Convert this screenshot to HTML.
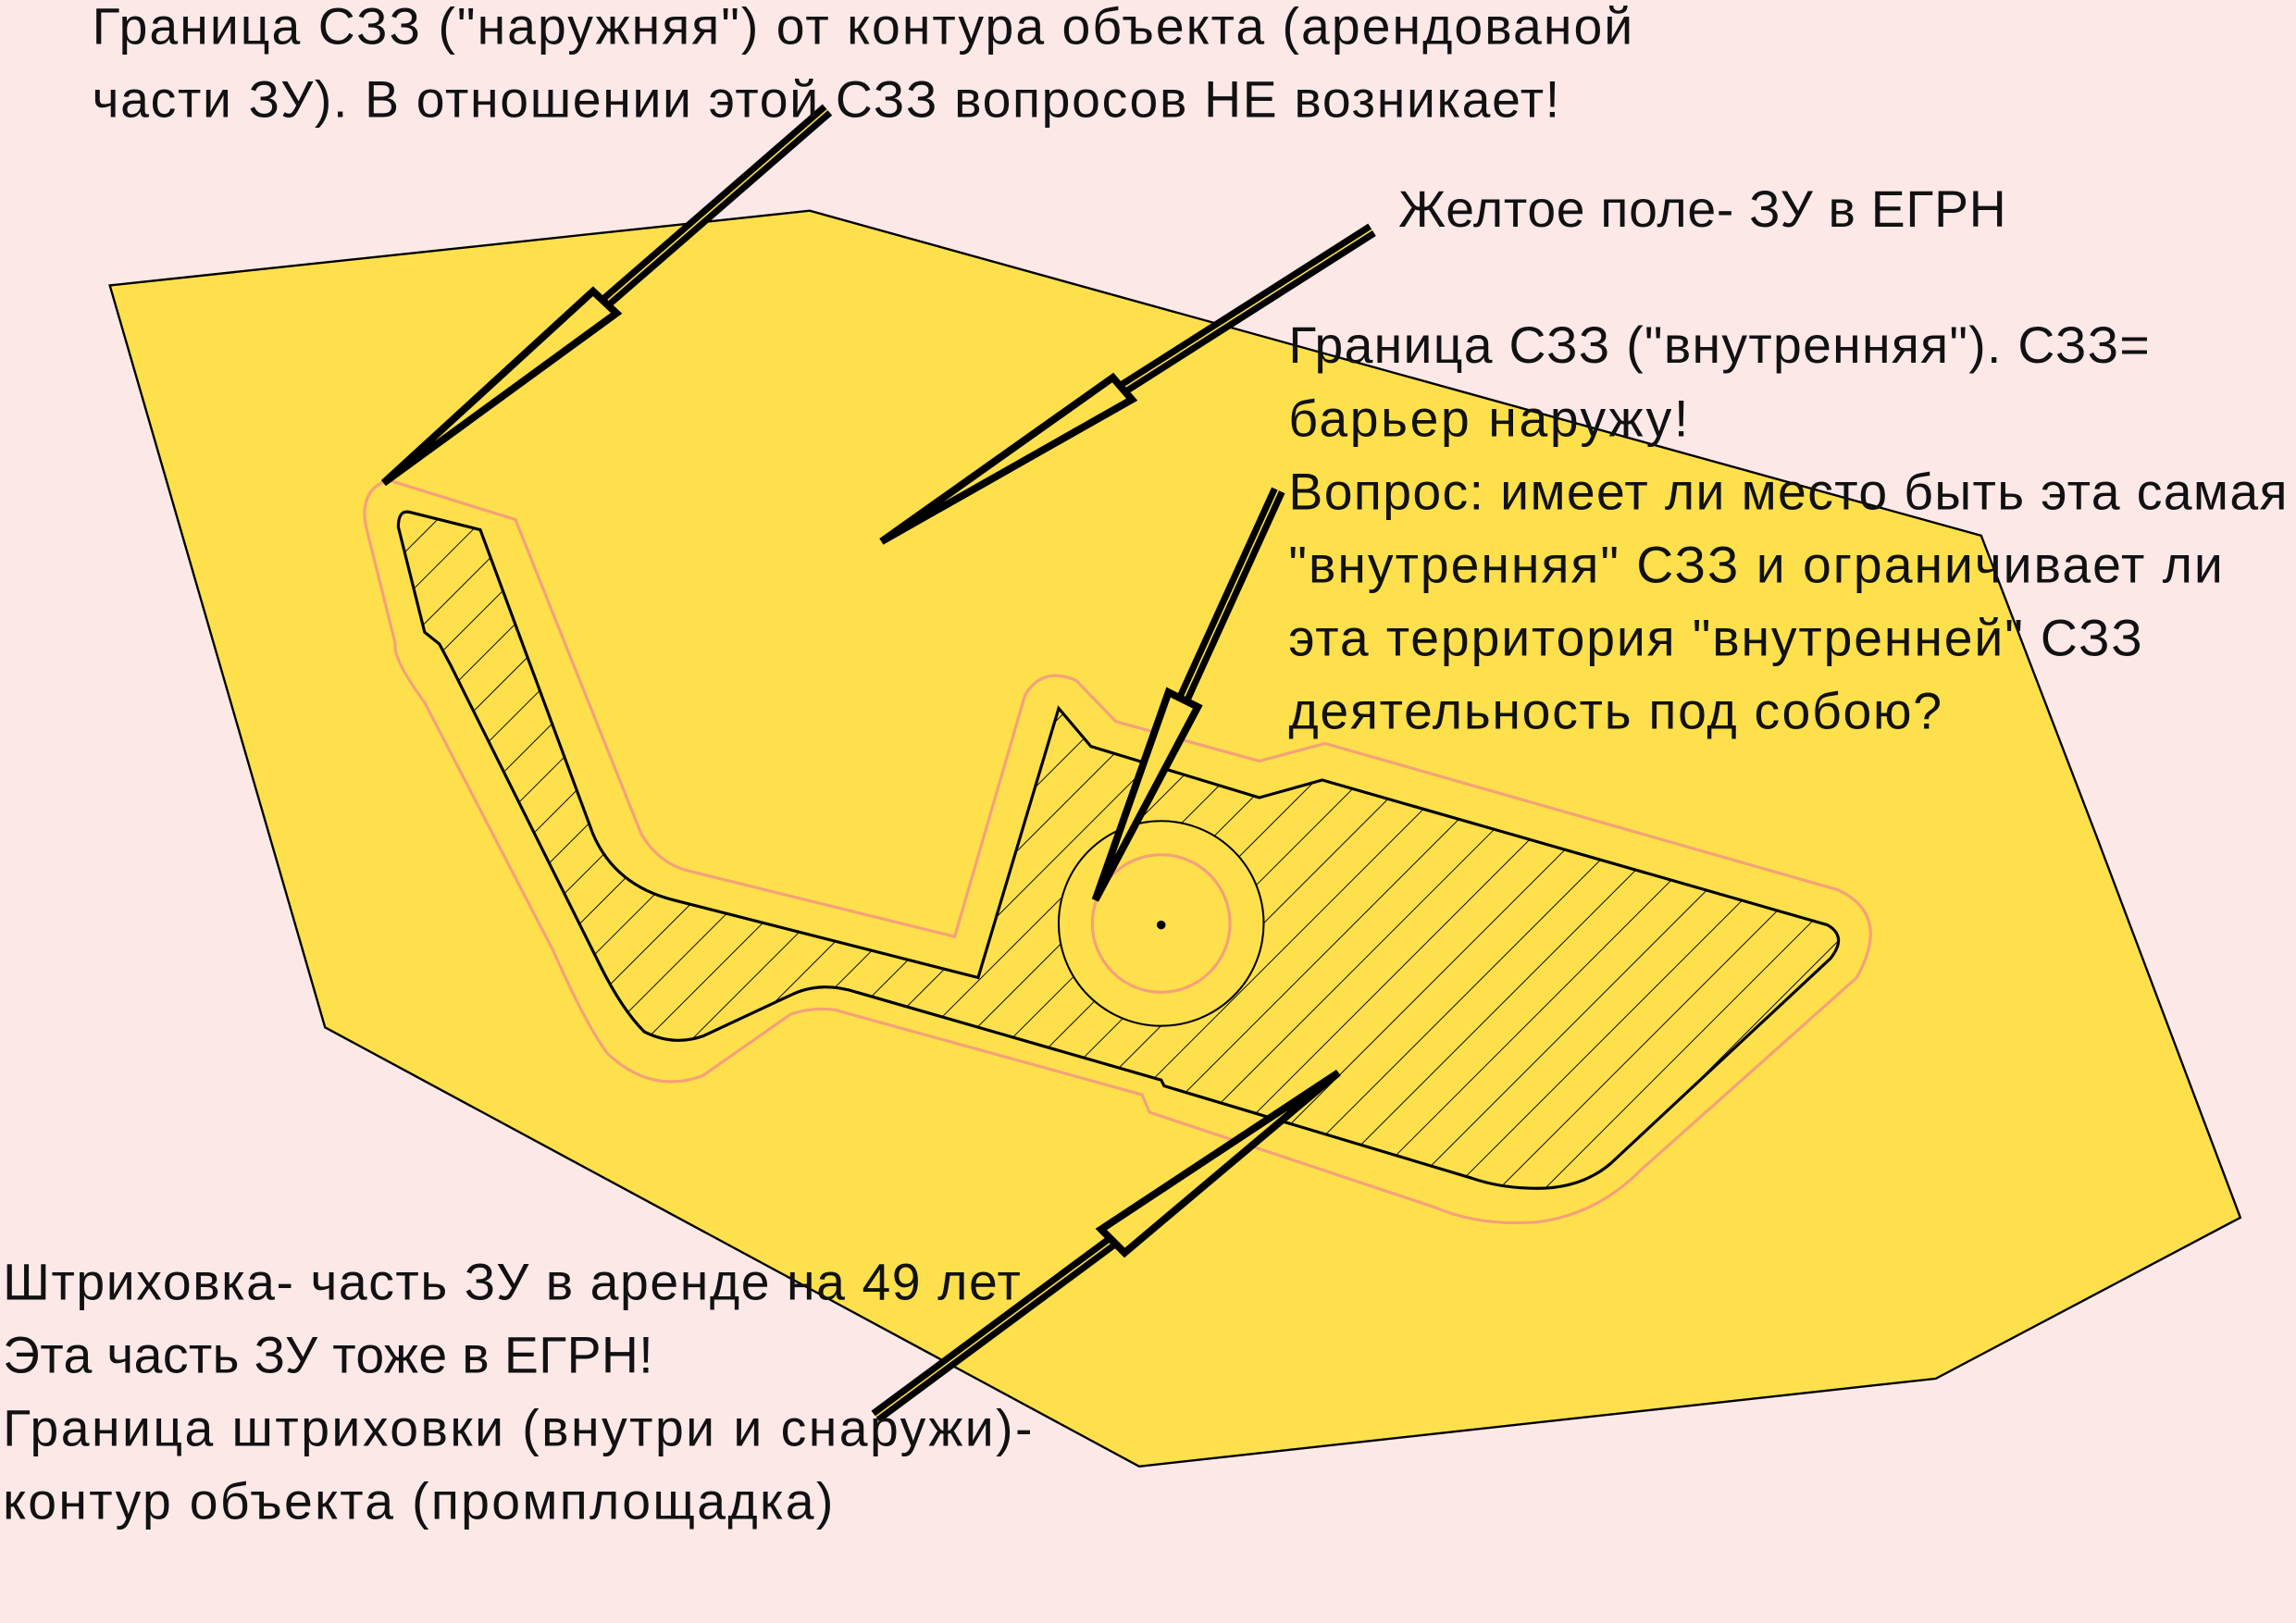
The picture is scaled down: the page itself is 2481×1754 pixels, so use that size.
<!DOCTYPE html>
<html><head><meta charset="utf-8"><style>
html,body{margin:0;padding:0;background:#fde8e8;}
svg{display:block;}
text{font-family:"Liberation Sans","DejaVu Sans",sans-serif;font-size:35px;fill:#111;}
</style></head><body>
<svg width="2481" height="1754" viewBox="0 0 1568 1109" preserveAspectRatio="none" xmlns="http://www.w3.org/2000/svg">
<defs>
<pattern id="h" width="22" height="22" patternUnits="userSpaceOnUse" patternTransform="rotate(45)">
<line x1="0" y1="0" x2="0" y2="22" stroke="#000" stroke-width="1.2"/>
</pattern>
</defs>
<rect width="1568" height="1109" fill="#fde8e8"/>
<polygon points="75,195 553,144 1353,366 1432,572 1530,832 1322,942 778,1002 222,702" fill="#fde04c" stroke="#000" stroke-width="1.5"/>
<path d="M265,328 L352,355 L438,570 Q450,590 470,595 L652,640 L700,475 Q712,455 735,465 L762,493 L860,520 L905,508 L1255,608 Q1292,625 1268,668 L1120,800 Q1090,830 1050,835 Q1010,838 980,825 L785,760 L780,748 L570,690 Q555,688 540,693 L480,735 Q445,748 415,720 Q400,700 378,650 L290,480 Q268,450 270,440 L265,420 L250,360 Q245,335 265,328 Z" fill="none" stroke="#f5a07a" stroke-width="2"/>
<path d="M280,350 L328,362 L405,570 Q420,605 460,615 L668,668 L723,484 L745,510 L860,545 L903,533 L1248,632 Q1262,640 1250,655 L1100,795 Q1080,812 1050,812 Q1025,812 1005,805 L795,742 L793,738 L585,678 Q560,670 540,680 L480,708 Q460,715 440,705 Q425,690 410,660 L308,455 L300,440 L290,432 L272,360 Q272,348 280,350 Z" fill="url(#h)" stroke="#000" stroke-width="2"/>
<circle cx="793" cy="631" r="70" fill="#fde04c" stroke="#000" stroke-width="1.3"/>
<circle cx="793" cy="631" r="47" fill="none" stroke="#f5a07a" stroke-width="2"/>
<circle cx="793" cy="632" r="3" fill="#000"/>
<g stroke="#000" stroke-linejoin="miter">
<line x1="565" y1="75" x2="413" y2="207" stroke-width="10"/><line x1="565" y1="75" x2="413" y2="207" stroke="#fde04c" stroke-width="1"/>
<polygon points="405,199 421,214 262,330" fill="#fde04c" stroke-width="5"/>
<line x1="937" y1="157" x2="766" y2="266" stroke-width="10"/><line x1="937" y1="157" x2="766" y2="266" stroke="#fde04c" stroke-width="1"/>
<polygon points="760,258 773,273 602,370" fill="#fde04c" stroke-width="5"/>
<line x1="873" y1="335" x2="808" y2="478" stroke-width="10"/><line x1="873" y1="335" x2="808" y2="478" stroke="#fde04c" stroke-width="1"/>
<polygon points="798,473 818,483 748,615" fill="#fde04c" stroke-width="5"/>
<line x1="598" y1="968" x2="760" y2="848" stroke-width="10"/><line x1="598" y1="968" x2="760" y2="848" stroke="#fde04c" stroke-width="1"/>
<polygon points="752,840 768,856 914,733" fill="#fde04c" stroke-width="5"/>
</g>
<text x="63" y="30" textLength="1052">Граница СЗЗ ("наружняя") от контура объекта (арендованой</text>
<text x="63" y="80" textLength="1002">части ЗУ). В отношении этой СЗЗ вопросов НЕ возникает!</text>
<text x="955" y="155" textLength="415">Желтое поле- ЗУ в ЕГРН</text>
<text x="880" y="248" textLength="588">Граница СЗЗ ("внутренняя"). СЗЗ=</text>
<text x="880" y="298" textLength="273">барьер наружу!</text>
<text x="880" y="348" textLength="682">Вопрос: имеет ли место быть эта самая</text>
<text x="880" y="398" textLength="638">"внутренняя" СЗЗ и ограничивает ли</text>
<text x="880" y="448" textLength="583">эта территория "внутренней" СЗЗ</text>
<text x="880" y="498" textLength="446">деятельность под собою?</text>
<text x="2" y="888" textLength="695">Штриховка- часть ЗУ в аренде на 49 лет</text>
<text x="2" y="938" textLength="444">Эта часть ЗУ тоже в ЕГРН!</text>
<text x="2" y="988" textLength="703">Граница штриховки (внутри и снаружи)-</text>
<text x="2" y="1038" textLength="567">контур объекта (промплощадка)</text>
</svg>
</body></html>
